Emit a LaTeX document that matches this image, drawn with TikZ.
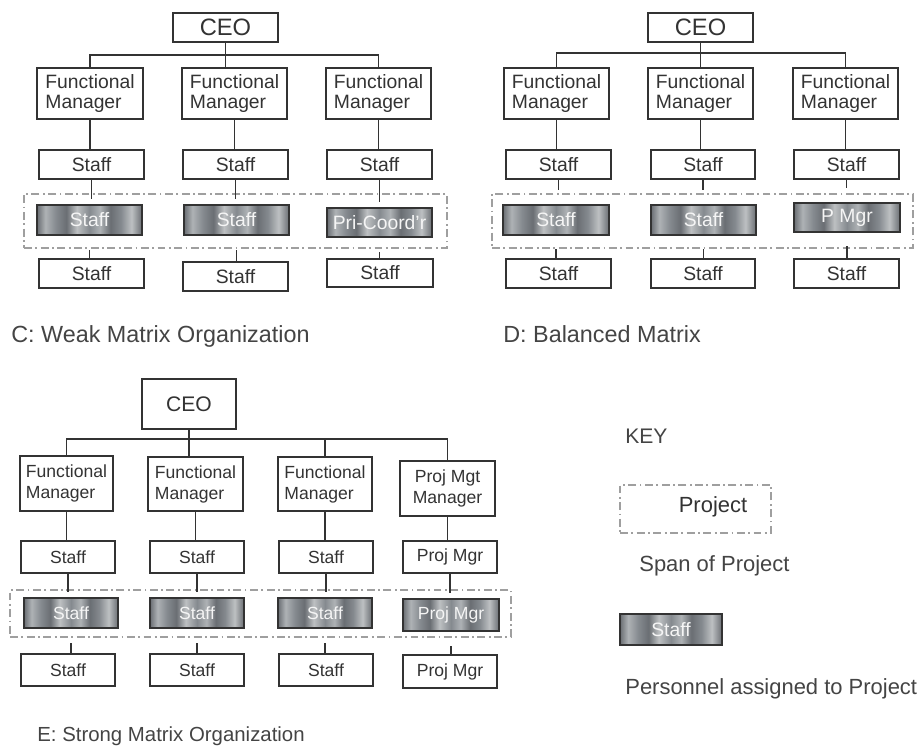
\documentclass[tikz,border=0pt]{standalone}
\usepackage{fontspec}
\setmainfont{Liberation Sans}
\definecolor{ink}{HTML}{333333}
\definecolor{labelink}{HTML}{444444}
\definecolor{mA}{HTML}{858A8F}
\definecolor{mB}{HTML}{AEB2B5}
\definecolor{mC}{HTML}{6A6E73}
\definecolor{mD}{HTML}{BDC0C2}
\pgfdeclarehorizontalshading{marble}{100bp}{color(0bp)=(mC); color(25bp)=(mC); color(29bp)=(mB); color(34bp)=(mA); color(39bp)=(mC); color(44bp)=(mD); color(50bp)=(mA); color(55bp)=(mB); color(60bp)=(mC); color(65bp)=(mA); color(70bp)=(mD); color(75bp)=(mC); color(100bp)=(mC)}
\newcommand{\orgbox}[6]{\node[#1, minimum width={(#5-#3)*0.02cm}, minimum height={(#6-#4)*0.02cm}] (#2) at ({(#3+#5)/2},{(#4+#6)/2})}
\tikzset{
  box/.style={draw=ink, line width=1.1pt, fill=white, inner sep=1pt, text=ink, font=\fontsize{11}{11}\selectfont, align=center},
  fmbox/.style={box, align=left},
  ebox/.style={box, font=\fontsize{10}{12}\selectfont},
  efmbox/.style={ebox, align=left},
  ceo/.style={box, font=\fontsize{13.5}{14}\selectfont},
  eceo/.style={box, font=\fontsize{12}{13}\selectfont},
  proj/.style={draw=black!80, line width=1.3pt, shading=marble, inner sep=1pt, text=white!92!gray, font=\fontsize{11}{11}\selectfont},
  eproj/.style={proj, font=\fontsize{10}{11}\selectfont},
  spanbox/.style={draw=gray!75, line width=0.9pt, dash pattern=on 4.5pt off 2pt on 1pt off 2pt, inner sep=0pt},
  conn/.style={draw=ink, line width=0.9pt},
  title/.style={anchor=base west, inner sep=0pt, text=labelink, font=\fontsize{13.3}{14}\selectfont},
  etitle/.style={title, font=\fontsize{11.6}{13}\selectfont},
  keytext/.style={anchor=base west, inner sep=0pt, text=labelink, font=\fontsize{12.5}{14}\selectfont}
}
\begin{document}
\begin{tikzpicture}[x=0.02cm, y=-0.02cm]
\useasboundingbox (0,0) rectangle (917,747);
% ---------------- C: Weak Matrix ----------------
\orgbox{spanbox}{cspan}{24}{194}{447}{248} {};
\orgbox{ceo}{cC}{173}{13}{278}{42} {CEO};
\orgbox{fmbox}{cF1}{37}{68}{143}{119} {Functional\\Manager};
\orgbox{fmbox}{cF2}{182}{68}{287}{119} {Functional\\Manager};
\orgbox{fmbox}{cF3}{326}{68}{431}{119} {Functional\\Manager};
\orgbox{box}{cS1}{39}{150}{144}{179} {Staff};
\orgbox{box}{cS2}{183}{150}{288}{179} {Staff};
\orgbox{box}{cS3}{327}{150}{432}{179} {Staff};
\orgbox{proj}{cP1}{37}{205}{142}{235} {Staff};
\orgbox{proj}{cP2}{184}{205}{289}{235} {Staff};
\orgbox{proj}{cP3}{327}{208}{432}{237} {Pri-Coord'r};
\orgbox{box}{cB1}{39}{259}{144}{288} {Staff};
\orgbox{box}{cB2}{183}{262}{288}{291} {Staff};
\orgbox{box}{cB3}{327}{259}{433}{287} {Staff};
\coordinate (cbus) at (0,55);
\draw[conn] (cC.south) -- (cC.south |- cF2.north);
\draw[conn] (cF1.north) -- (cF1.north |- cbus) -- (cF3.north |- cbus) -- (cF3.north);
\foreach \i in {1,2,3}{
  \draw[conn] (cF\i.south) -- (cF\i.south |- cS\i.north);
  \draw[conn, shorten >=0.1cm] (cS\i.south) -- (cS\i.south |- cP\i.north);
  \draw[conn, shorten <=0.28cm] (cP\i.south) -- (cP\i.south |- cB\i.north);
}
\node[title] (cT) at (11,342) {C: Weak Matrix Organization};
% ---------------- D: Balanced Matrix ----------------
\orgbox{spanbox}{dspan}{492}{194}{913}{248} {};
\orgbox{ceo}{dC}{648}{13}{753}{42} {CEO};
\orgbox{fmbox}{dF1}{504}{68}{609}{119} {Functional\\Manager};
\orgbox{fmbox}{dF2}{648}{68}{753}{119} {Functional\\Manager};
\orgbox{fmbox}{dF3}{793}{68}{898}{119} {Functional\\Manager};
\orgbox{box}{dS1}{506}{150}{611}{179} {Staff};
\orgbox{box}{dS2}{651}{150}{755}{179} {Staff};
\orgbox{box}{dS3}{794}{150}{899}{179} {Staff};
\orgbox{proj}{dP1}{503}{205}{609}{235} {Staff};
\orgbox{proj}{dP2}{651}{205}{756}{235} {Staff};
\orgbox{proj}{dP3}{794}{203}{900}{232} {P Mgr};
\orgbox{box}{dB1}{506}{259}{611}{288} {Staff};
\orgbox{box}{dB2}{651}{259}{755}{288} {Staff};
\orgbox{box}{dB3}{794}{259}{899}{288} {Staff};
\coordinate (dbus) at (0,53);
\draw[conn] (dC.south) -- (dC.south |- dF2.north);
\draw[conn] (dF1.north) -- (dF1.north |- dbus) -- (dF3.north |- dbus) -- (dF3.north);
\foreach \i in {1,2,3}{
  \draw[conn] (dF\i.south) -- (dF\i.south |- dS\i.north);
  \draw[conn, shorten >=0.28cm] (dS\i.south) -- (dS\i.south |- dP\i.north);
  \draw[conn, shorten <=0.26cm] (dP\i.south) -- (dP\i.south |- dB\i.north);
}
\node[title] (dT) at (503,342) {D: Balanced Matrix};
% ---------------- E: Strong Matrix ----------------
\orgbox{spanbox}{espan}{10}{590}{511}{637} {};
\orgbox{eceo}{eC}{142}{379}{236}{429} {CEO};
\orgbox{efmbox}{eF1}{20}{456}{113}{511} {Functional\\Manager};
\orgbox{efmbox}{eF2}{148}{457}{243}{511} {Functional\\Manager};
\orgbox{efmbox}{eF3}{278}{457}{372}{511} {Functional\\Manager};
\orgbox{ebox}{eF4}{400}{461}{495}{516} {Proj Mgt\\Manager};
\orgbox{ebox}{eS1}{21}{541}{115}{573} {Staff};
\orgbox{ebox}{eS2}{150}{541}{244}{573} {Staff};
\orgbox{ebox}{eS3}{279}{541}{373}{573} {Staff};
\orgbox{ebox}{eS4}{403}{541}{497}{573} {Proj Mgr};
\orgbox{eproj}{eP1}{24}{598}{118}{628} {Staff};
\orgbox{eproj}{eP2}{150}{598}{244}{628} {Staff};
\orgbox{eproj}{eP3}{278}{598}{372}{628} {Staff};
\orgbox{eproj}{eP4}{403}{599}{499}{631} {Proj Mgr};
\orgbox{ebox}{eB1}{21}{654}{115}{686} {Staff};
\orgbox{ebox}{eB2}{150}{654}{244}{686} {Staff};
\orgbox{ebox}{eB3}{279}{654}{373}{686} {Staff};
\orgbox{ebox}{eB4}{403}{655}{497}{688} {Proj Mgr};
\coordinate (ebus) at (0,439);
\draw[conn] (eC.south) -- (eC.south |- eF2.north);
\draw[conn] (eF1.north) -- (eF1.north |- ebus) -- (eF4.north |- ebus) -- (eF4.north);
\draw[conn] (eF3.north) -- (eF3.north |- ebus);
\foreach \i in {1,2,3,4}{
  \draw[conn] (eF\i.south) -- (eF\i.south |- eS\i.north);
  \draw[conn, shorten >=0.1cm] (eS\i.south) -- (eS\i.south |- eP\i.north);
  \draw[conn, shorten <=0.28cm] (eP\i.south) -- (eP\i.south |- eB\i.north);
}
\node[etitle] (eT) at (37,741) {E: Strong Matrix Organization};
% ---------------- KEY ----------------
\node[keytext, font=\fontsize{12}{14}\selectfont] (key) at (625,443) {KEY};
\orgbox{spanbox}{kspan}{620}{485}{771}{533} {};
\node[inner sep=0pt, text=ink, font=\fontsize{12.5}{14}\selectfont] (kproj) at (713,507) {Project};
\node[keytext] (kspantext) at (639,571) {Span of Project};
\orgbox{proj}{kP}{620}{614}{722}{645} {Staff};
\node[keytext] (kpers) at (625,694) {Personnel assigned to Project};
\end{tikzpicture}
\end{document}
